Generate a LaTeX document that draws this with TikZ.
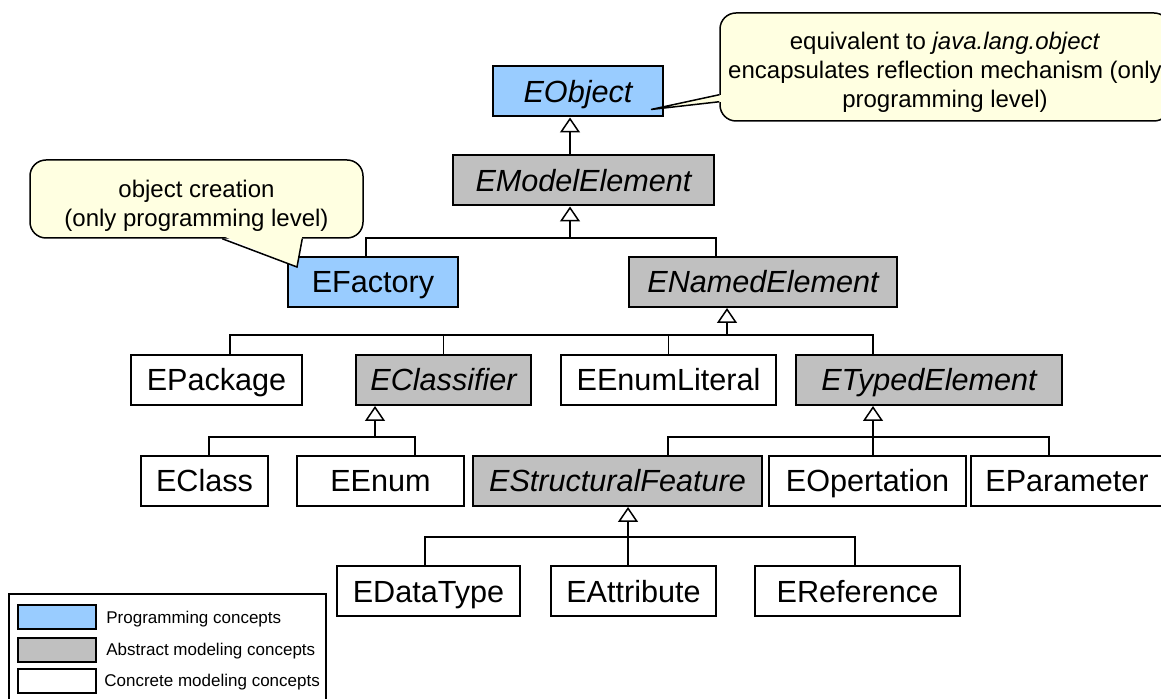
\documentclass[tikz,border=0pt]{standalone}
\usepackage{fontspec}
\setmainfont{Liberation Sans}
\usetikzlibrary{arrows.meta, positioning, calc}
\definecolor{progblue}{HTML}{99CCFF}
\definecolor{absgray}{HTML}{C0C0C0}
\definecolor{noteyellow}{HTML}{FFFFE1}

\begin{document}
\begin{tikzpicture}[x=0.5pt, y=-0.5pt,
	cls/.style={draw, line width=1pt, inner sep=0pt, minimum height=25pt,
		text height=11pt, text depth=0pt, font=\fontsize{15.3}{18}\selectfont},
	slanted/.style={font=\fontsize{15.3}{18}\selectfont\itshape},
	concrete/.style={cls, fill=white},
	abstract/.style={cls, slanted, fill=absgray},
	prog/.style={cls, fill=progblue},
	gen/.style={-{Triangle[open, width=10pt, length=7.5pt]}, line width=0.75pt},
	fork/.style={line width=0.75pt},
	note/.style={draw, line width=0.75pt, fill=noteyellow, rounded corners=8pt,
		align=center, font=\fontsize{12}{14.5}\selectfont},
	swatch/.style={draw, line width=1pt, minimum width=39pt, minimum height=12pt, inner sep=0pt},
	legendtext/.style={inner sep=0pt, text depth=0pt, font=\fontsize{8.5}{10}\selectfont}]
	\useasboundingbox (0,0) rectangle (1161,699);
	\clip (0,0) rectangle (1161,699);

	% class boxes
	\node[prog, slanted, minimum width=85pt] (eobject) at (578,91.5) {EObject};
	\node[abstract, minimum width=130.5pt] (emodel) at (583.5,180.5) {EModelElement};
	\node[prog, minimum width=85pt] (efactory) at (373,282) {EFactory};
	\node[abstract, minimum width=134pt] (enamed) at (763,282) {ENamedElement};
	\node[concrete, minimum width=85.5pt] (epackage) at (216.5,380) {EPackage};
	\node[abstract, minimum width=87.5pt] (eclassifier) at (443.5,380) {EClassifier};
	\node[concrete, minimum width=107.5pt] (eenumlit) at (668.5,380) {EEnumLiteral};
	\node[abstract, minimum width=133pt] (etyped) at (929,380) {ETypedElement};
	\node[concrete, minimum width=63.5pt] (eclass) at (204.5,481) {EClass};
	\node[concrete, minimum width=83.5pt] (eenum) at (380.5,481) {EEnum};
	\node[abstract, minimum width=144.5pt] (esf) at (617.5,481) {EStructuralFeature};
	\node[concrete, minimum width=98.5pt] (eop) at (867.5,481) {EOpertation};
	\node[concrete, minimum width=96pt] (eparam) at (1067,481) {EParameter};
	\node[concrete, minimum width=91.5pt] (edatatype) at (428.5,591) {EDataType};
	\node[concrete, minimum width=82.5pt] (eattr) at (633.5,591) {EAttribute};
	\node[concrete, minimum width=102.5pt] (eref) at (857.5,591) {EReference};

	% generalisations
	\draw[gen] (emodel.north -| 570,0) -- (570,0 |- eobject.south);

	\coordinate (f1) at (570,238);
	\draw[fork] (366,0 |- efactory.north) |- (f1) -| (716,0 |- enamed.north);
	\draw[gen] (f1) -- (f1 |- emodel.south);

	\coordinate (f2) at (727,335);
	\draw[fork] (230,0 |- epackage.north) |- (f2) -| (873,0 |- etyped.north);
	\draw[fork] (eclassifier.north) -- (eclassifier.north |- f2);
	\draw[fork] (eenumlit.north) -- (eenumlit.north |- f2);
	\draw[gen] (f2) -- (f2 |- enamed.south);

	\coordinate (f3) at (375,437);
	\draw[fork] (209,0 |- eclass.north) |- (f3) -| (415,0 |- eenum.north);
	\draw[gen] (f3) -- (f3 |- eclassifier.south);

	\coordinate (f4) at (873,437);
	\draw[fork] (668,0 |- esf.north) |- (f4) -| (1049,0 |- eparam.north);
	\draw[fork] (f4 |- eop.north) -- (f4);
	\draw[gen] (f4) -- (f4 |- etyped.south);

	\coordinate (f5) at (628,537);
	\draw[fork] (425,0 |- edatatype.north) |- (f5) -| (855,0 |- eref.north);
	\draw[fork] (f5 |- eattr.north) -- (f5);
	\draw[gen] (f5) -- (f5 |- esf.south);

	% notes
	\node[note, minimum width=225pt, minimum height=54pt] (noteobj) at (945,67)
		{\rule{0pt}{14pt}equivalent to \textit{java.lang.object}\\encapsulates reflection mechanism (only\\programming level)};
	\coordinate (tipobj) at ($(eobject.south east)+(-13,-8)$);
	\fill[noteyellow] ($(noteobj.south west)+(3,-20)$) -- (tipobj) -- ($(noteobj.south west)+(3,-27)$) -- cycle;
	\draw[line width=0.75pt] ($(noteobj.south west)+(0,-20)$) -- (tipobj) -- ($(noteobj.south west)+(0,-27)$);

	\node[note, minimum width=166.5pt, minimum height=39pt] (notefac) at (196.5,199)
		{\rule{0pt}{15pt}object creation\\(only programming level)};
	\coordinate (tipfac) at ($(efactory.north west)+(10,11)$);
	\fill[noteyellow] ($(notefac.south west)+(193,-3)$) -- (tipfac) -- ($(notefac.south west)+(273,-3)$) -- cycle;
	\draw[line width=0.75pt] ($(notefac.south west)+(193,0)$) -- (tipfac) -- ($(notefac.south west)+(273,0)$);

	% legend
	\draw[line width=1pt] (9,594) rectangle (326,712);
	\node[swatch, fill=progblue] (keyprog) at (57,617) {};
	\node[swatch, fill=absgray] (keyabs) at (57,649.5) {};
	\node[swatch, fill=white] (keycon) at (57,680.5) {};
	\node[legendtext, right=4.5pt of keyprog] (txtprog) {Programming concepts};
	\node[legendtext, right=4.5pt of keyabs] (txtabs) {Abstract modeling concepts};
	\node[legendtext, right=3.5pt of keycon] (txtcon) {Concrete modeling concepts};
\end{tikzpicture}
\end{document}
